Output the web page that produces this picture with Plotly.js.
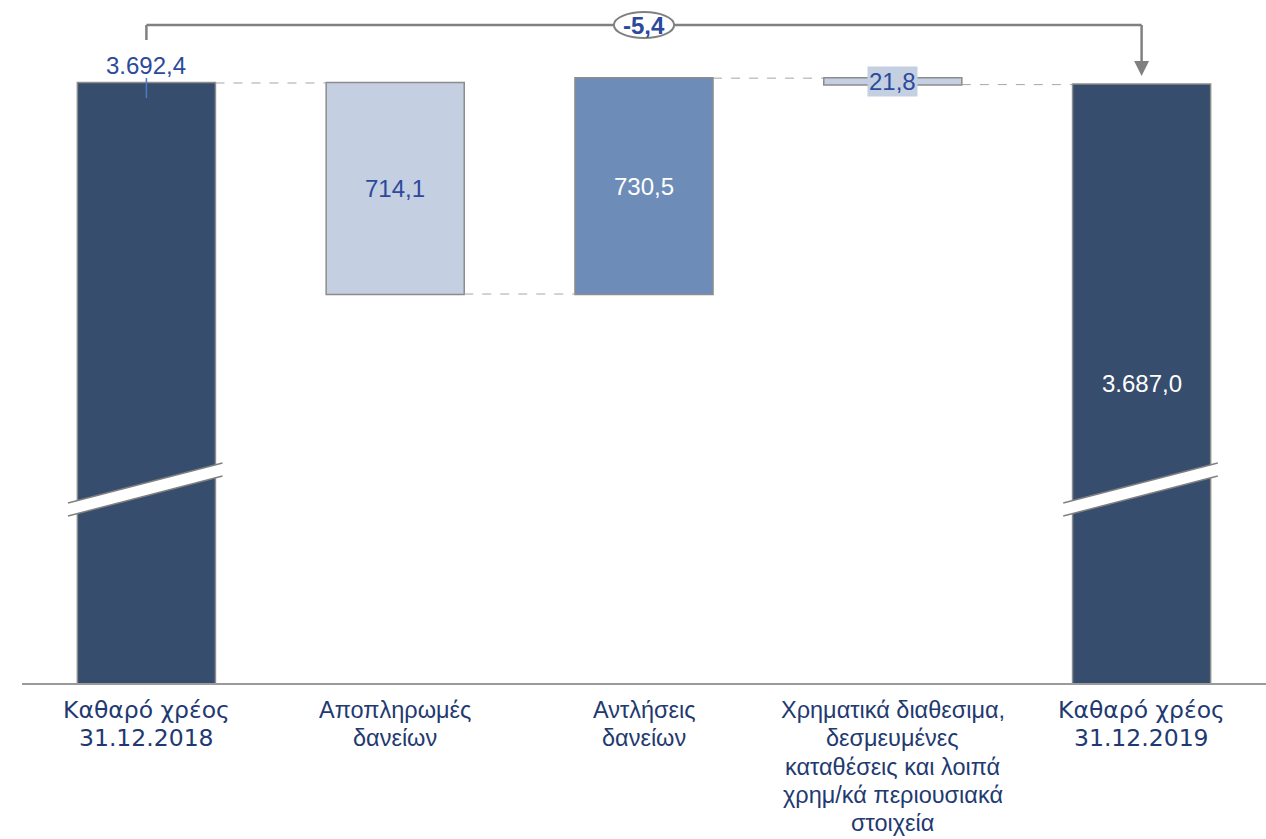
<!DOCTYPE html>
<html>
<head>
<meta charset="utf-8">
<script src="https://cdn.plot.ly/plotly-3.0.1.min.js"></script>
<style>html,body{margin:0;padding:0;background:#fff;}#chart{width:1266px;height:839px;}</style>
</head>
<body>
<div id="chart"></div>
<script>
// ---- data ----
const categories = [
  'Καθαρό χρέος<br>31.12.2018',
  'Αποπληρωμές<br>δανείων',
  'Αντλήσεις<br>δανείων',
  'Χρηματικά διαθεσιμα,<br>δεσμευμένες<br>καταθέσεις και λοιπά<br>χρημ/κά περιουσιακά<br>στοιχεία',
  'Καθαρό χρέος<br>31.12.2019'
];
const measures = ['absolute', 'relative', 'relative', 'relative', 'total'];
const values = [3692.4, -714.1, 730.5, -21.8, 3687.0];
const labelFonts = ['DejaVu Sans', 'Liberation Sans', 'Liberation Sans', 'Liberation Sans', 'DejaVu Sans'];

// ---- helpers ----
function fmt(v) {
  const neg = v < 0;
  let s = Math.abs(v).toFixed(1);
  let [ip, dp] = s.split('.');
  ip = ip.replace(/\B(?=(\d{3})+(?!\d))/g, '.');
  return (neg ? '-' : '') + ip + ',' + dp;
}
const xs = categories.map((c, i) => i);
// running levels
const ends = [];
let run = 0;
measures.forEach((m, i) => {
  if (m === 'absolute') run = values[i];
  else if (m === 'relative') run += values[i];
  ends.push(run);
});
const starts = measures.map((m, i) => (m === 'relative' ? ends[i] - values[i] : 0));

const H = 839, MT = 0, MB = 156;
const plotH = H - MT - MB;
const pxPerUnit = 0.2955;
const yTopPx = 83; // pixel of first bar top
const ymax = ends[0] + yTopPx / pxPerUnit;
const ymin = ymax - plotH / pxPerUnit;
const yv = py => ymax - py / pxPerUnit;

const DARK = '#374d6d', MED = '#6d8cb8', LIGHT = '#c4cfe1', OUT = '#8c8c8c', GREY = '#808080';
const NUMC = '#2b4a9b', CATC = '#1f3a70';
const NUMSIZE = 24;

const trace = {
  type: 'waterfall',
  x: xs,
  y: values,
  measure: measures,
  base: 0,
  textinfo: 'none',
  hoverinfo: 'skip',
  decreasing: {marker: {color: LIGHT, line: {color: OUT, width: 1.5}}},
  increasing: {marker: {color: MED, line: {color: OUT, width: 1.5}}},
  totals: {marker: {color: DARK, line: {color: OUT, width: 1.5}}},
  connector: {mode: 'between', line: {color: '#a6a6a6', width: 1, dash: 'dash'}}
};

const shapes = [];
const annotations = [];

// break marks on total bars
[0, 4].forEach(i => {
  const x0 = i - 0.315, x1 = i + 0.306;
  const a = yv(503), b = yv(463), c = yv(476), d = yv(516);
  shapes.push({type: 'path', xref: 'x', yref: 'y',
    path: `M ${x0},${a} L ${x1},${b} L ${x1},${c} L ${x0},${d} Z`,
    fillcolor: '#ffffff', line: {width: 0}});
  shapes.push({type: 'line', xref: 'x', yref: 'y', x0: x0, x1: x1, y0: a, y1: b, line: {color: GREY, width: 1.5}});
  shapes.push({type: 'line', xref: 'x', yref: 'y', x0: x0, x1: x1, y0: d, y1: c, line: {color: GREY, width: 1.5}});
});

// bracket showing total change
const yBr = yv(25);
shapes.push({type: 'line', xref: 'x', yref: 'y', x0: 0, x1: 4, y0: yBr, y1: yBr, line: {color: GREY, width: 2.5}});
shapes.push({type: 'line', xref: 'x', yref: 'y', x0: 0, x1: 0, y0: yBr, y1: yv(40), line: {color: GREY, width: 2.5}});
shapes.push({type: 'line', xref: 'x', yref: 'y', x0: 4, x1: 4, y0: yBr, y1: yv(62), line: {color: GREY, width: 2.5}});
shapes.push({type: 'path', xref: 'x', yref: 'y',
  path: `M ${4 - 0.03},${yv(61)} L ${4 + 0.03},${yv(61)} L 4,${yv(76)} Z`,
  fillcolor: GREY, line: {width: 0}});
shapes.push({type: 'circle', xref: 'x', yref: 'y', x0: 2 - 0.121, x1: 2 + 0.121, y0: yv(38), y1: yv(12),
  fillcolor: '#ffffff', line: {color: GREY, width: 2}});
annotations.push({x: 2, y: yBr, xref: 'x', yref: 'y', text: '<b>' + fmt(ends[4] - ends[0]) + '</b>',
  showarrow: false, font: {family: 'Liberation Sans', size: NUMSIZE, color: NUMC}});

// leader line for first value
shapes.push({type: 'line', xref: 'x', yref: 'y', x0: 0, x1: 0, y0: yv(78), y1: yv(98), line: {color: '#4f7ac0', width: 1.5}});

// value labels
annotations.push({x: 0, y: ends[0], yshift: 18, xref: 'x', yref: 'y', text: fmt(values[0]), showarrow: false,
  font: {family: 'Liberation Sans', size: NUMSIZE, color: NUMC}});
annotations.push({x: 1, y: (starts[1] + ends[1]) / 2, xref: 'x', yref: 'y', text: fmt(Math.abs(values[1])), showarrow: false,
  font: {family: 'Liberation Sans', size: NUMSIZE, color: NUMC}});
annotations.push({x: 2, y: (starts[2] + ends[2]) / 2, xref: 'x', yref: 'y', text: fmt(values[2]), showarrow: false,
  font: {family: 'Liberation Sans', size: NUMSIZE, color: '#ffffff'}});
annotations.push({x: 3, y: (starts[3] + ends[3]) / 2, xref: 'x', yref: 'y', text: fmt(Math.abs(values[3])), showarrow: false,
  bgcolor: LIGHT, borderpad: 1,
  font: {family: 'Liberation Sans', size: NUMSIZE, color: NUMC}});
annotations.push({x: 4, y: (ends[4] + ymin) / 2, xref: 'x', yref: 'y', text: fmt(ends[4]), showarrow: false,
  font: {family: 'Liberation Sans', size: NUMSIZE, color: '#ffffff'}});

// category labels, one annotation per line for exact line spacing
categories.forEach((c, i) => {
  c.split('<br>').forEach((line, k) => {
    annotations.push({x: i, y: 0, xref: 'x', yref: 'paper', yanchor: 'middle', yshift: -27 - k * 28.3,
      text: line, showarrow: false,
      font: {family: labelFonts[i], size: labelFonts[i] === 'DejaVu Sans' ? 23.5 : 23.5, color: CATC}});
  });
});

const layout = {
  width: 1266, height: H,
  margin: {l: 22, r: 0, t: MT, b: MB},
  paper_bgcolor: '#ffffff', plot_bgcolor: '#ffffff',
  showlegend: false,
  waterfallgap: 0.445,
  xaxis: {range: [-0.5, 4.5], showticklabels: false, ticks: '', showgrid: false, zeroline: false,
    showline: true, linecolor: '#9a9a9a', linewidth: 2, fixedrange: true},
  yaxis: {range: [ymin, ymax], visible: false, showgrid: false, zeroline: false, fixedrange: true},
  shapes: shapes,
  annotations: annotations
};

Plotly.newPlot('chart', [trace], layout, {displayModeBar: false, staticPlot: true});
</script>
</body>
</html>
